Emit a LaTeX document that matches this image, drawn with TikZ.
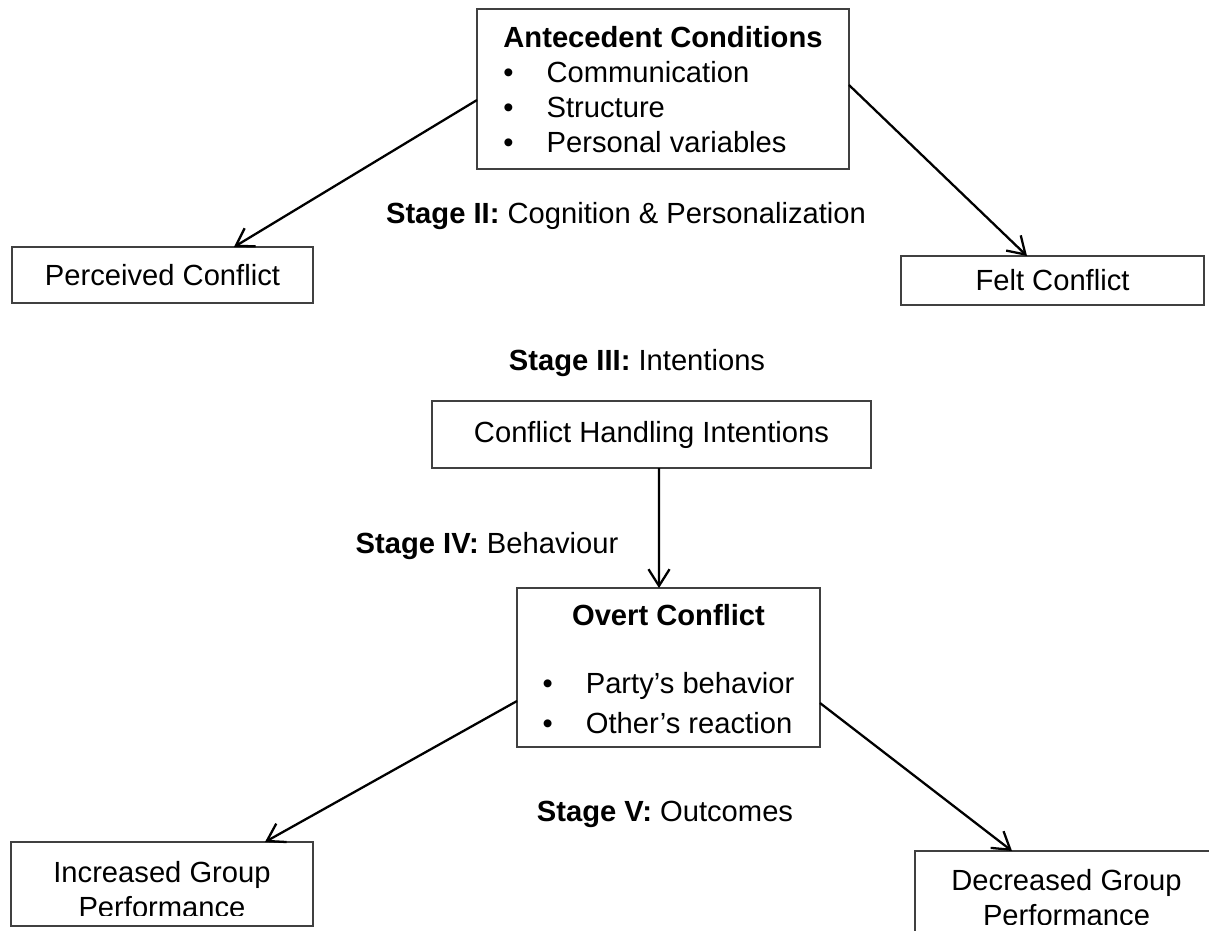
\documentclass[tikz,border=0pt]{standalone}
\usepackage{fontspec}
\setmainfont{Liberation Sans}
\usetikzlibrary{arrows.meta}

\begin{document}
\begin{tikzpicture}[x=0.02cm, y=-0.02cm,
    font=\fontsize{16.6}{19.9}\selectfont,
    box/.style={draw=black!75, line width=0.8pt, inner sep=0pt, outer sep=0pt},
    flow/.style={-{Straight Barb[length=9.5pt,width=12pt]}, line width=1.3pt},
    stage/.style={anchor=base}]

    % Fix the page to the size of the drawing
    \useasboundingbox (0,0) rectangle (1209,930);
    \clip (0,0) rectangle (1209,930);

    % Stage I: the antecedent conditions
    \node[box, minimum width=7.44cm, minimum height=3.2cm] (ante) at (663,89) {%
      \begin{tabular}{@{}l@{\hspace{18.8pt}}l@{}}
        \noalign{\vskip 5pt}
        \multicolumn{2}{@{}c@{}}{\textbf{Antecedent Conditions}}\\
        \textbullet & Communication\\
        \textbullet & Structure\\
        \textbullet & Personal variables
      \end{tabular}};

    % Stage II: the two kinds of conflict
    \node[stage] (stagetwo) at (626,223) {\textbf{Stage II:} Cognition \& Personalization};
    \node[box, minimum width=6.02cm, minimum height=1.12cm] (perc) at (162.5,275) {Perceived Conflict};
    \node[box, minimum width=6.06cm, minimum height=0.98cm] (felt) at (1052.5,280.5) {Felt Conflict};

    % Stage III: intentions
    \node[stage] (stagethree) at (637,370) {\textbf{Stage III:} Intentions};
    \node[box, minimum width=8.78cm, minimum height=1.34cm] (hand) at (651.5,434.5) {Conflict Handling Intentions};

    % Stage IV: behaviour
    \node[stage] (stagefour) at (487,553) {\textbf{Stage IV:} Behaviour};
    \node[box, minimum width=6.06cm, minimum height=3.18cm] (overt) at (668.5,667.5) {%
      \begin{tabular}{@{}l@{\hspace{18.8pt}}l@{}}
        \noalign{\vskip 5.6pt}
        \multicolumn{2}{@{}c@{}}{\textbf{Overt Conflict}}\\[18.8pt]
        \textbullet & Party’s behavior\\[2.9pt]
        \textbullet & Other’s reaction
      \end{tabular}};

    % Stage V: outcomes (the text is cut off at the box bottom)
    \node[stage] (stagefive) at (665,821) {\textbf{Stage V:} Outcomes};
    \node[box, minimum width=6.04cm, minimum height=1.68cm] (incr) at (162,884) {};
    \node[box, minimum width=6.06cm, minimum height=1.68cm] (decr) at (1066.5,893) {};
    \begin{scope}
      \clip (incr.north west) rectangle ([yshift=0.22cm]incr.south east);
      \node[align=center] (incrtext) at ([yshift=-0.11cm]incr.center) {Increased Group\\Performance};
    \end{scope}
    \begin{scope}
      \clip (decr.north west) rectangle ([yshift=0.22cm]decr.south east);
      \node[align=center] (decrtext) at ([yshift=-0.09cm]decr.center) {Decreased Group\\Performance};
    \end{scope}

    % Arrows between the stages
    \draw[flow] ([yshift=-0.22cm]ante.west) -- ([xshift=1.43cm]perc.north);
    \draw[flow] ([yshift=0.08cm]ante.east) -- ([xshift=-0.51cm]felt.north);
    \draw[flow] ([xshift=0.15cm]hand.south) -- ([xshift=-0.19cm]overt.north);
    \draw[flow] ([yshift=-0.67cm]overt.west) -- ([xshift=2.06cm]incr.north);
    \draw[flow] ([yshift=-0.71cm]overt.east) -- ([xshift=-1.09cm]decr.north);

\end{tikzpicture}
\end{document}
